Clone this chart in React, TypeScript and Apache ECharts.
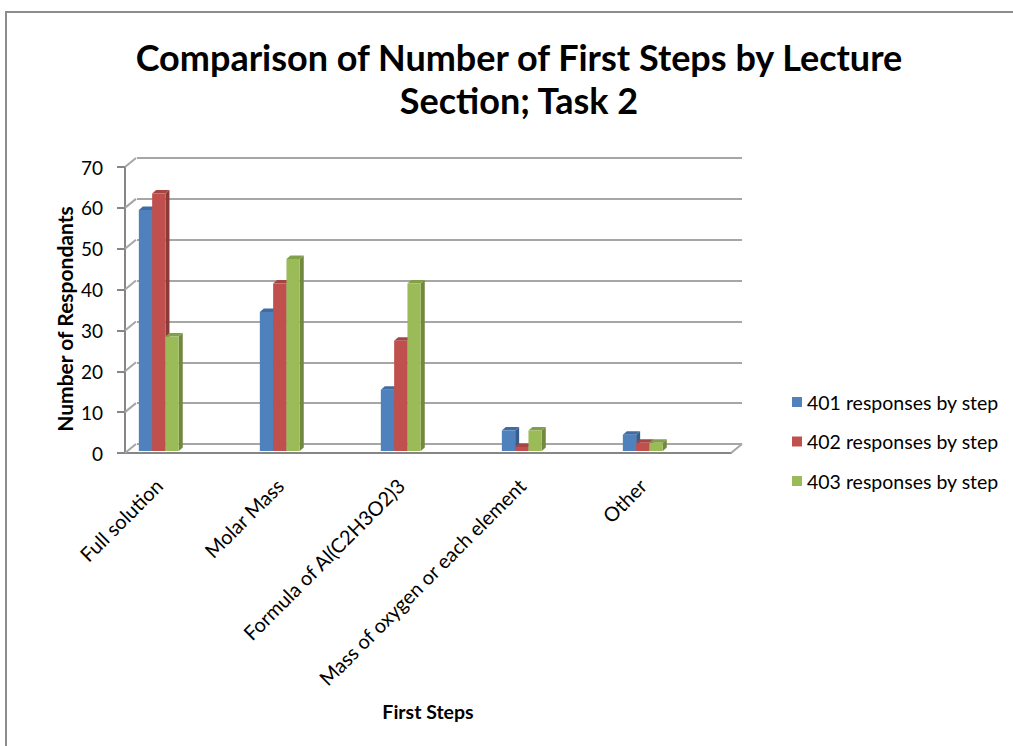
import React, { useEffect, useRef } from "react";
import * as echarts from "echarts";

const categories = [
  "Full solution",
  "Molar Mass",
  "Formula of Al(C2H3O2)3",
  "Mass of oxygen or each element",
  "Other",
];
const seriesNames = ["401 responses by step", "402 responses by step", "403 responses by step"];
const values401 = [59, 34, 15, 5, 4];
const values402 = [63, 41, 27, 1, 2];
const values403 = [28, 47, 41, 5, 2];
const yTicks = [0, 10, 20, 30, 40, 50, 60, 70];

const frontColors = ["#4F81BD", "#C0504D", "#9BBB59"];
const sideColors = ["#385D8A", "#8C3A38", "#71893F"];
const topColors = ["#3F6CA3", "#A54643", "#82A04A"];

const FONT = "Lato, 'Open Sans', sans-serif";

export default function App() {
  const ref = useRef<HTMLDivElement>(null);
  useEffect(() => {
    if (!ref.current) return;
    const chart = echarts.init(ref.current, undefined, { renderer: "svg" });
    const allValues = [values401, values402, values403];

    const barSeries = allValues.map((vals, s) => ({
      type: "custom",
      name: seriesNames[s],
      xAxisIndex: 0,
      yAxisIndex: 0,
      silent: true,
      itemStyle: { color: frontColors[s] },
      data: vals.map((v, i) => [i, v]),
      renderItem: (params: any, api: any) => {
        const ci = api.value(0);
        const v = api.value(1);
        const base = api.coord([ci, 0]);
        const top = api.coord([ci, v]);
        const band = api.size([1, 0])[0];
        const w = band * 0.11;
        const x0 = base[0] - 1.5 * w + s * w;
        const x1 = x0 + w;
        const dx = 4;
        const dy = -3.5;
        return {
          type: "group",
          children: [
            {
              type: "polygon",
              shape: { points: [[x1, top[1]], [x1 + dx, top[1] + dy], [x1 + dx, base[1] + dy], [x1, base[1]]] },
              style: { fill: sideColors[s] },
            },
            {
              type: "polygon",
              shape: { points: [[x0, top[1]], [x0 + dx, top[1] + dy], [x1 + dx, top[1] + dy], [x1, top[1]]] },
              style: { fill: topColors[s] },
            },
            {
              type: "rect",
              shape: { x: x0, y: top[1], width: w, height: base[1] - top[1] },
              style: { fill: frontColors[s] },
            },
          ],
        };
      },
    }));

    const diagSeries = {
      type: "custom",
      name: "diagonals",
      xAxisIndex: 1,
      yAxisIndex: 1,
      silent: true,
      data: [...yTicks.map((v) => [0, v]), [1, 0]],
      renderItem: (params: any, api: any) => {
        const p = api.coord([api.value(0), api.value(1)]);
        return {
          type: "line",
          shape: { x1: p[0], y1: p[1], x2: p[0] + 11, y2: p[1] - 9 },
          style: { stroke: "#A6A6A6", lineWidth: 2 },
        };
      },
      z: 1,
    };

    chart.setOption({
      animation: false,
      color: frontColors,
      title: {
        text: "Comparison of Number of First Steps by Lecture\nSection; Task 2",
        left: 514,
        top: 30,
        textAlign: "center",
        textStyle: {
          fontFamily: FONT,
          fontSize: 36,
          fontWeight: "bold",
          color: "#000",
          lineHeight: 43,
        },
      },
      graphic: [
        {
          type: "rect",
          shape: { x: 6, y: 12, width: 1030, height: 760 },
          style: { fill: "none", stroke: "#8C8C8C", lineWidth: 2 },
          silent: true,
          z: -10,
        },
        {
          type: "text",
          x: 64,
          y: 319,
          rotation: Math.PI / 2,
          silent: true,
          style: {
            text: "Number of Respondants",
            textAlign: "center",
            textVerticalAlign: "middle",
            fontFamily: FONT,
            fontSize: 21,
            fontWeight: "bold",
            fill: "#000",
          },
        },
      ],
      legend: {
        data: seriesNames,
        orient: "vertical",
        left: 787,
        top: 387,
        itemWidth: 10,
        itemHeight: 10,
        itemGap: 19.5,
        icon: "rect",
        textStyle: { fontFamily: FONT, fontSize: 19.5, lineHeight: 20, color: "#000" },
      },
      grid: [
        { left: 98.3, width: 605, top: 165, height: 286 },
        { left: 125, width: 606, top: 167, height: 286 },
        { left: 137, width: 605, top: 158, height: 286 },
      ],
      xAxis: [
        {
          type: "category",
          gridIndex: 0,
          data: categories,
          axisLine: { show: false },
          axisTick: { show: false },
          axisLabel: {
            rotate: 45,
            interval: 0,
            margin: 31,
            fontFamily: FONT,
            fontSize: 20,
            color: "#000",
          },
        },
        {
          type: "value",
          gridIndex: 1,
          min: 0,
          max: 1,
          axisLine: { show: true, onZero: false, lineStyle: { color: "#868686", width: 2 } },
          axisTick: { show: false },
          axisLabel: { show: false },
          splitLine: { show: false },
          name: "First Steps",
          nameLocation: "middle",
          nameGap: 248,
          nameTextStyle: { fontFamily: FONT, fontSize: 19.5, fontWeight: "bold", color: "#000" },
        },
        {
          type: "value",
          gridIndex: 2,
          min: 0,
          max: 1,
          show: false,
        },
      ],
      yAxis: [
        { type: "value", gridIndex: 0, min: 0, max: 70, show: false },
        {
          type: "value",
          gridIndex: 1,
          min: 0,
          max: 70,
          interval: 10,
          axisLine: { show: true, lineStyle: { color: "#868686", width: 2 } },
          axisTick: { show: true, length: 8, lineStyle: { color: "#868686", width: 2 } },
          axisLabel: { margin: 22, fontFamily: FONT, fontSize: 19, color: "#000" },
          splitLine: { show: false },
        },
        {
          type: "value",
          gridIndex: 2,
          min: 0,
          max: 70,
          interval: 10,
          axisLine: { show: false },
          axisTick: { show: false },
          axisLabel: { show: false },
          splitLine: { show: true, lineStyle: { color: "#A6A6A6", width: 2 } },
        },
      ],
      series: [diagSeries, ...barSeries],
    });
    return () => chart.dispose();
  }, []);
  return (
    <div
      ref={ref}
      style={{ position: "absolute", left: 0, top: 0, width: 1013, height: 746, background: "#fff" }}
    />
  );
}
